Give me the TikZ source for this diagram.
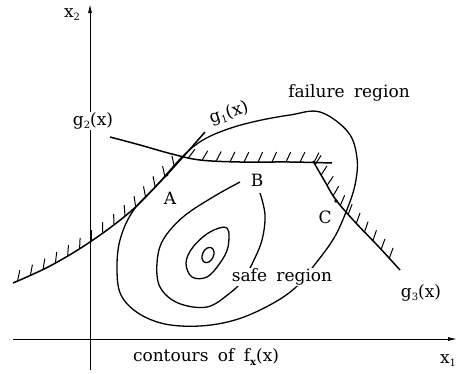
\documentclass[tikz,border=0pt]{standalone}
\usepackage{fontspec}
\setmainfont{DejaVu Serif}
\usetikzlibrary{arrows.meta,decorations.markings}
\newcommand{\lowsub}[1]{\raisebox{-0.35ex}{\fontsize{10}{12}\selectfont #1}}
\newcommand{\labelfont}{\fontsize{17}{20}\selectfont\spaceskip=0.55em\relax}
\tikzset{
  tag/.style={font=\labelfont, text=black, inner sep=1pt},
  axis/.style={-{Latex[length=9pt,width=4pt]}, line width=0.9pt},
  limit/.style={line width=1.5pt},
  contour/.style={line width=1.3pt},
  hatch/.style n args={4}{postaction={decorate, decoration={markings,
    mark=between positions #1 and #2 step #4 with {\draw[line width=1pt] (0pt,0pt) -- (#3:11pt);}}}},
}

\begin{document}
\begin{tikzpicture}[x=1pt,y=-1pt]
  \useasboundingbox (0,0) rectangle (458,373);

  \coordinate (xtail) at (13,339);
  \coordinate (xhead) at (457,339);
  \coordinate (ytail) at (90,370);
  \coordinate (yhead) at (90,4);
  \draw[axis] (xtail) -- (xhead);
  \draw[axis] (ytail) -- (yhead);

  \draw[contour] plot[smooth cycle, tension=0.6] coordinates {(320,112) (348,132) (357,158) (355,185) (346,212) (334,238) (316,263) (295,288) (268,306) (235,320) (200,326) (165,324) (138,313) (121,295) (117,270) (120,240) (133,211) (158,184) (183,156) (203,140) (228,129) (257,121) (290,115)};
  \draw[contour] plot[smooth, tension=0.6] coordinates {(260,193) (265,215) (262,240) (253,262) (243,280) (230,293) (207,307) (178,303) (160,287) (157,263) (163,240) (183,217) (213,197) (240,182)};
  \draw[contour] plot[smooth cycle, tension=0.6] coordinates {(227,228) (228,247) (220,263) (207,277) (192,277) (186,263) (193,247) (210,232)};
  \draw[contour, rotate around={-25:(208,255)}] (208,255) ellipse (5.5 and 8);

  \draw[limit, hatch={0.02}{0.86}{55}{14pt}] plot[smooth, tension=0.6] coordinates {(13,283) (50,266) (90,242) (130,212) (160,182) (183,157) (205,132)};
  \draw[limit, hatch={0.36}{0.93}{65}{14pt}] plot[smooth, tension=0.6] coordinates {(110,137) (140,145) (172,154) (200,160) (240,162) (290,162) (332,163)};
  \draw[limit, hatch={0.03}{0.96}{117}{12pt}] plot[smooth, tension=0.6] coordinates {(313,161) (324,180) (336,200) (355,222) (378,246) (400,270)};

  \fill (167,175) circle (1.6);
  \fill (336,201) circle (1.8);

  \node[tag] (xtwo) at (72,15) {x\lowsub{2}};
  \node[tag] (xone) at (448,361) {x\lowsub{1}};
  \node[tag, fill=white] (gtwo) at (93,121) {g\lowsub{2}(x)};
  \node[tag, rotate=18] (gone) at (229,113) {g\lowsub{1}(x)};
  \node[tag] (gthree) at (421,293) {g\lowsub{3}(x)};
  \node[tag] (fail) at (349,93) {failure region};
  \node[tag, fill=white] (safe) at (282,277) {safe region};
  \node[tag] (ptA) at (170,198) {A};
  \node[tag] (ptB) at (257,180) {B};
  \node[tag] (ptC) at (325,217) {C};
  \node[tag] (dens) at (206,357) {contours of f\lowsub{\textbf{x}}(x)};
\end{tikzpicture}
\end{document}
